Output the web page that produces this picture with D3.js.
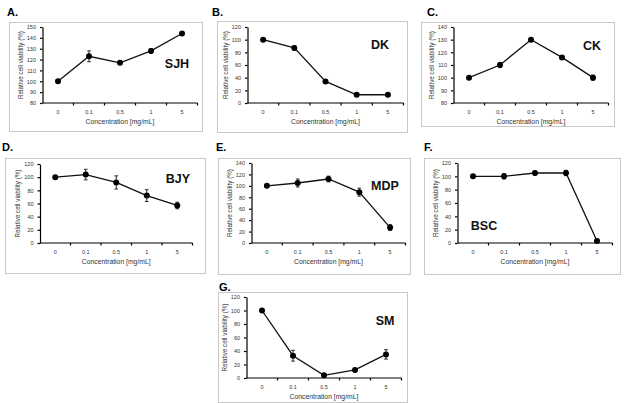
<!DOCTYPE html>
<html>
<head>
<meta charset="utf-8">
<script src="https://cdn.jsdelivr.net/npm/d3@7"></script>
<style>
  body { margin: 0; background: #fff; }
  svg { display: block; font-family: "Liberation Sans", Arial, sans-serif; }
  .axis path, .axis line { stroke: #000; stroke-width: 1.2; }
  .axis text { font-size: 5.5px; fill: #333; }
</style>
</head>
<body>
<svg class="canvas"></svg>
<script>
var concentrations = ["0", "0.1", "0.5", "1", "5"];

var sjhValues = [100, 123, 117, 128, 144];
var sjhErrors = [1.5, 5, 1.5, 2, 1];
var sjhTicks = [80, 90, 100, 110, 120, 130, 140, 150];

var dkValues = [100, 87, 34, 13, 13];
var dkErrors = [1.5, 3, 3, 1.5, 1];
var dkTicks = [0, 20, 40, 60, 80, 100, 120];

var ckValues = [100, 110, 130, 116, 100];
var ckErrors = [1, 2, 1, 1, 2];
var ckTicks = [80, 90, 100, 110, 120, 130, 140];

var bjyValues = [100, 104, 92, 72, 57];
var bjyErrors = [2, 8, 10, 9, 5];
var bjyTicks = [0, 20, 40, 60, 80, 100, 120];

var mdpValues = [100, 105, 112, 89, 27];
var mdpErrors = [2, 7, 5, 7, 5];
var mdpTicks = [0, 20, 40, 60, 80, 100, 120, 140];

var bscValues = [100, 100, 105, 105, 3];
var bscErrors = [2, 4, 3, 4, 1];
var bscTicks = [0, 20, 40, 60, 80, 100, 120];

var smValues = [100, 33, 4, 12, 35];
var smErrors = [1, 8, 2, 1, 7];
var smTicks = [0, 20, 40, 60, 80, 100, 120];

// layout of each panel: frame box, plot box, letter and name positions
var panels = [
  { letter: "A.", name: "SJH", values: sjhValues, errors: sjhErrors, ticks: sjhTicks,
    frame: [9, 22, 202, 131], plot: [42.5, 27, 197.5, 103], lx: 7, ly: 16, nx: 177, ny: 68 },
  { letter: "B.", name: "DK", values: dkValues, errors: dkErrors, ticks: dkTicks,
    frame: [217, 21, 407, 132], plot: [247.5, 27, 403.5, 103], lx: 212, ly: 16, nx: 380, ny: 49 },
  { letter: "C.", name: "CK", values: ckValues, errors: ckErrors, ticks: ckTicks,
    frame: [421, 22, 614, 126], plot: [453.5, 27, 608.5, 103], lx: 427, ly: 16, nx: 592, ny: 50 },
  { letter: "D.", name: "BJY", values: bjyValues, errors: bjyErrors, ticks: bjyTicks,
    frame: [5, 158, 205, 273], plot: [40, 164, 192.5, 243], lx: 2, ly: 151, nx: 178, ny: 183 },
  { letter: "E.", name: "MDP", values: mdpValues, errors: mdpErrors, ticks: mdpTicks,
    frame: [218, 158, 410, 274], plot: [251.5, 163, 405.5, 243], lx: 216, ly: 151, nx: 385, ny: 190 },
  { letter: "F.", name: "BSC", values: bscValues, errors: bscErrors, ticks: bscTicks,
    frame: [424, 158, 620, 274], plot: [457.5, 163, 612.5, 243], lx: 424, ly: 151, nx: 484, ny: 230 },
  { letter: "G.", name: "SM", values: smValues, errors: smErrors, ticks: smTicks,
    frame: [218, 292, 407, 402], plot: [246.5, 297, 401.5, 378], lx: 219, ly: 291, nx: 385, ny: 325 }
];

var svg = d3.select(".canvas").attr("width", 624).attr("height", 403);

function drawPanel(p) {
  var g = svg.append("g");
  var f = p.frame, b = p.plot;

  g.append("rect")
    .attr("x", f[0] + 0.5).attr("y", f[1] + 0.5)
    .attr("width", f[2] - f[0]).attr("height", f[3] - f[1])
    .attr("fill", "none").attr("stroke", "#c8c8c8").attr("stroke-width", 1);

  g.append("text")
    .attr("x", p.lx).attr("y", p.ly)
    .attr("font-size", 11).attr("font-weight", "bold")
    .text(p.letter);

  var x = d3.scaleBand().domain(concentrations).range([b[0], b[2]]);
  var y = d3.scaleLinear()
    .domain([p.ticks[0], p.ticks[p.ticks.length - 1]])
    .range([b[3], b[1]]);

  var yAxis = d3.axisLeft(y).tickValues(p.ticks).tickSize(2.5).tickSizeOuter(0).tickPadding(4);
  g.append("g")
    .attr("class", "axis")
    .attr("transform", "translate(" + b[0] + ",0)")
    .call(yAxis);

  var xAxis = d3.axisBottom(x).tickSize(0).tickPadding(7);
  var xg = g.append("g")
    .attr("class", "axis")
    .attr("transform", "translate(0," + b[3] + ")")
    .call(xAxis);
  xg.select(".domain").attr("d", "M" + b[0] + ",0H" + b[2]);
  // tick marks sit between the categories
  xg.selectAll(".sep")
    .data(concentrations.slice(1).concat([null]))
    .enter().append("line")
    .attr("x1", function(d, i) { return x(concentrations[i]) + x.bandwidth(); })
    .attr("x2", function(d, i) { return x(concentrations[i]) + x.bandwidth(); })
    .attr("y1", 0).attr("y2", 2.5)
    .attr("stroke", "#000");

  g.append("text")
    .attr("transform", "translate(" + (b[0] - 20) + "," + ((b[1] + b[3]) / 2) + ") rotate(-90)")
    .attr("text-anchor", "middle")
    .attr("font-size", 6.3).attr("fill", "#333")
    .text("Relative cell viability (%)");

  g.append("text")
    .attr("x", (b[0] + b[2]) / 2).attr("y", b[3] + 21)
    .attr("text-anchor", "middle")
    .attr("font-size", 6.8).attr("fill", "#333")
    .text("Concentration [mg/mL]");

  var cx = function(d, i) { return x(concentrations[i]) + x.bandwidth() / 2; };

  var line = d3.line()
    .x(function(d, i) { return cx(d, i); })
    .y(function(d) { return y(d); });

  g.append("path")
    .datum(p.values)
    .attr("d", line)
    .attr("fill", "none")
    .attr("stroke", "#111")
    .attr("stroke-width", 1.3);

  var err = g.selectAll(".err").data(p.values).enter().append("g");
  err.append("line")
    .attr("x1", cx).attr("x2", cx)
    .attr("y1", function(d, i) { return y(d + p.errors[i]); })
    .attr("y2", function(d, i) { return y(d - p.errors[i]); })
    .attr("stroke", "#111").attr("stroke-width", 0.9);
  [1, -1].forEach(function(s) {
    err.append("line")
      .attr("x1", function(d, i) { return cx(d, i) - 1.8; })
      .attr("x2", function(d, i) { return cx(d, i) + 1.8; })
      .attr("y1", function(d, i) { return y(d + s * p.errors[i]); })
      .attr("y2", function(d, i) { return y(d + s * p.errors[i]); })
      .attr("stroke", "#111").attr("stroke-width", 0.9);
  });

  g.selectAll(".dot").data(p.values).enter().append("circle")
    .attr("cx", cx)
    .attr("cy", function(d) { return y(d); })
    .attr("r", 3)
    .attr("fill", "#000");

  g.append("text")
    .attr("x", p.nx).attr("y", p.ny)
    .attr("text-anchor", "middle")
    .attr("font-size", 12.5).attr("font-weight", "bold")
    .attr("fill", "#111")
    .text(p.name);
}

panels.forEach(drawPanel);
</script>
</body>
</html>
